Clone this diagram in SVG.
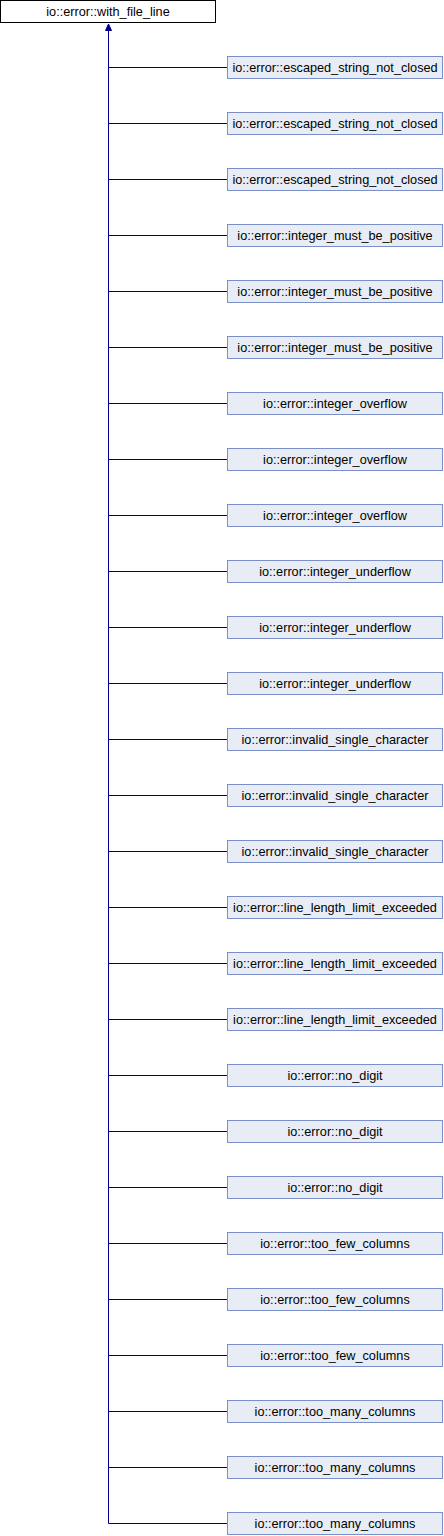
<svg xmlns="http://www.w3.org/2000/svg" width="444" height="1536" viewBox="0 0 444 1536">
<defs>
<style>
.n rect{fill:#E8ECF5;stroke:#7B8FCB;stroke-width:1}
.b rect{fill:#FFFFFF;stroke:#000000;stroke-width:1}
text{font-family:"Liberation Sans",Arial,sans-serif;font-size:12.7px;fill:#000000;text-anchor:middle}
.e{stroke:#00008B;stroke-width:1;fill:none}
</style>
</defs>
<rect width="444" height="1536" fill="#FFFFFF"/>
<g id="edges">
<path class="e" d="M108.5 29V1523.5"/>
<path class="e" d="M108.5 67.5H227.5M108.5 123.5H227.5M108.5 179.5H227.5M108.5 235.5H227.5M108.5 291.5H227.5M108.5 347.5H227.5M108.5 403.5H227.5M108.5 459.5H227.5M108.5 515.5H227.5M108.5 571.5H227.5M108.5 627.5H227.5M108.5 683.5H227.5M108.5 739.5H227.5M108.5 795.5H227.5M108.5 851.5H227.5M108.5 907.5H227.5M108.5 963.5H227.5M108.5 1019.5H227.5M108.5 1075.5H227.5M108.5 1131.5H227.5M108.5 1187.5H227.5M108.5 1243.5H227.5M108.5 1299.5H227.5M108.5 1355.5H227.5M108.5 1411.5H227.5M108.5 1467.5H227.5M108.5 1523.5H227.5"/>
<polygon points="108.5,24 105.5,30.5 111.5,30.5" fill="#00008B" stroke="#00008B" stroke-width="1"/>
</g>
<g id="base" class="b"><rect x="0.5" y="0.5" width="215" height="22"/><text x="108" y="16">io::error::with_file_line</text></g>
<g id="n1" class="n"><rect x="227.5" y="56.5" width="215" height="22"/><text x="335" y="72">io::error::escaped_string_not_closed</text></g>
<g id="n2" class="n"><rect x="227.5" y="112.5" width="215" height="22"/><text x="335" y="128">io::error::escaped_string_not_closed</text></g>
<g id="n3" class="n"><rect x="227.5" y="168.5" width="215" height="22"/><text x="335" y="184">io::error::escaped_string_not_closed</text></g>
<g id="n4" class="n"><rect x="227.5" y="224.5" width="215" height="22"/><text x="335" y="240">io::error::integer_must_be_positive</text></g>
<g id="n5" class="n"><rect x="227.5" y="280.5" width="215" height="22"/><text x="335" y="296">io::error::integer_must_be_positive</text></g>
<g id="n6" class="n"><rect x="227.5" y="336.5" width="215" height="22"/><text x="335" y="352">io::error::integer_must_be_positive</text></g>
<g id="n7" class="n"><rect x="227.5" y="392.5" width="215" height="22"/><text x="335" y="408">io::error::integer_overflow</text></g>
<g id="n8" class="n"><rect x="227.5" y="448.5" width="215" height="22"/><text x="335" y="464">io::error::integer_overflow</text></g>
<g id="n9" class="n"><rect x="227.5" y="504.5" width="215" height="22"/><text x="335" y="520">io::error::integer_overflow</text></g>
<g id="n10" class="n"><rect x="227.5" y="560.5" width="215" height="22"/><text x="335" y="576">io::error::integer_underflow</text></g>
<g id="n11" class="n"><rect x="227.5" y="616.5" width="215" height="22"/><text x="335" y="632">io::error::integer_underflow</text></g>
<g id="n12" class="n"><rect x="227.5" y="672.5" width="215" height="22"/><text x="335" y="688">io::error::integer_underflow</text></g>
<g id="n13" class="n"><rect x="227.5" y="728.5" width="215" height="22"/><text x="335" y="744">io::error::invalid_single_character</text></g>
<g id="n14" class="n"><rect x="227.5" y="784.5" width="215" height="22"/><text x="335" y="800">io::error::invalid_single_character</text></g>
<g id="n15" class="n"><rect x="227.5" y="840.5" width="215" height="22"/><text x="335" y="856">io::error::invalid_single_character</text></g>
<g id="n16" class="n"><rect x="227.5" y="896.5" width="215" height="22"/><text x="335" y="912">io::error::line_length_limit_exceeded</text></g>
<g id="n17" class="n"><rect x="227.5" y="952.5" width="215" height="22"/><text x="335" y="968">io::error::line_length_limit_exceeded</text></g>
<g id="n18" class="n"><rect x="227.5" y="1008.5" width="215" height="22"/><text x="335" y="1024">io::error::line_length_limit_exceeded</text></g>
<g id="n19" class="n"><rect x="227.5" y="1064.5" width="215" height="22"/><text x="335" y="1080">io::error::no_digit</text></g>
<g id="n20" class="n"><rect x="227.5" y="1120.5" width="215" height="22"/><text x="335" y="1136">io::error::no_digit</text></g>
<g id="n21" class="n"><rect x="227.5" y="1176.5" width="215" height="22"/><text x="335" y="1192">io::error::no_digit</text></g>
<g id="n22" class="n"><rect x="227.5" y="1232.5" width="215" height="22"/><text x="335" y="1248">io::error::too_few_columns</text></g>
<g id="n23" class="n"><rect x="227.5" y="1288.5" width="215" height="22"/><text x="335" y="1304">io::error::too_few_columns</text></g>
<g id="n24" class="n"><rect x="227.5" y="1344.5" width="215" height="22"/><text x="335" y="1360">io::error::too_few_columns</text></g>
<g id="n25" class="n"><rect x="227.5" y="1400.5" width="215" height="22"/><text x="335" y="1416">io::error::too_many_columns</text></g>
<g id="n26" class="n"><rect x="227.5" y="1456.5" width="215" height="22"/><text x="335" y="1472">io::error::too_many_columns</text></g>
<g id="n27" class="n"><rect x="227.5" y="1512.5" width="215" height="22"/><text x="335" y="1528">io::error::too_many_columns</text></g>
</svg>
